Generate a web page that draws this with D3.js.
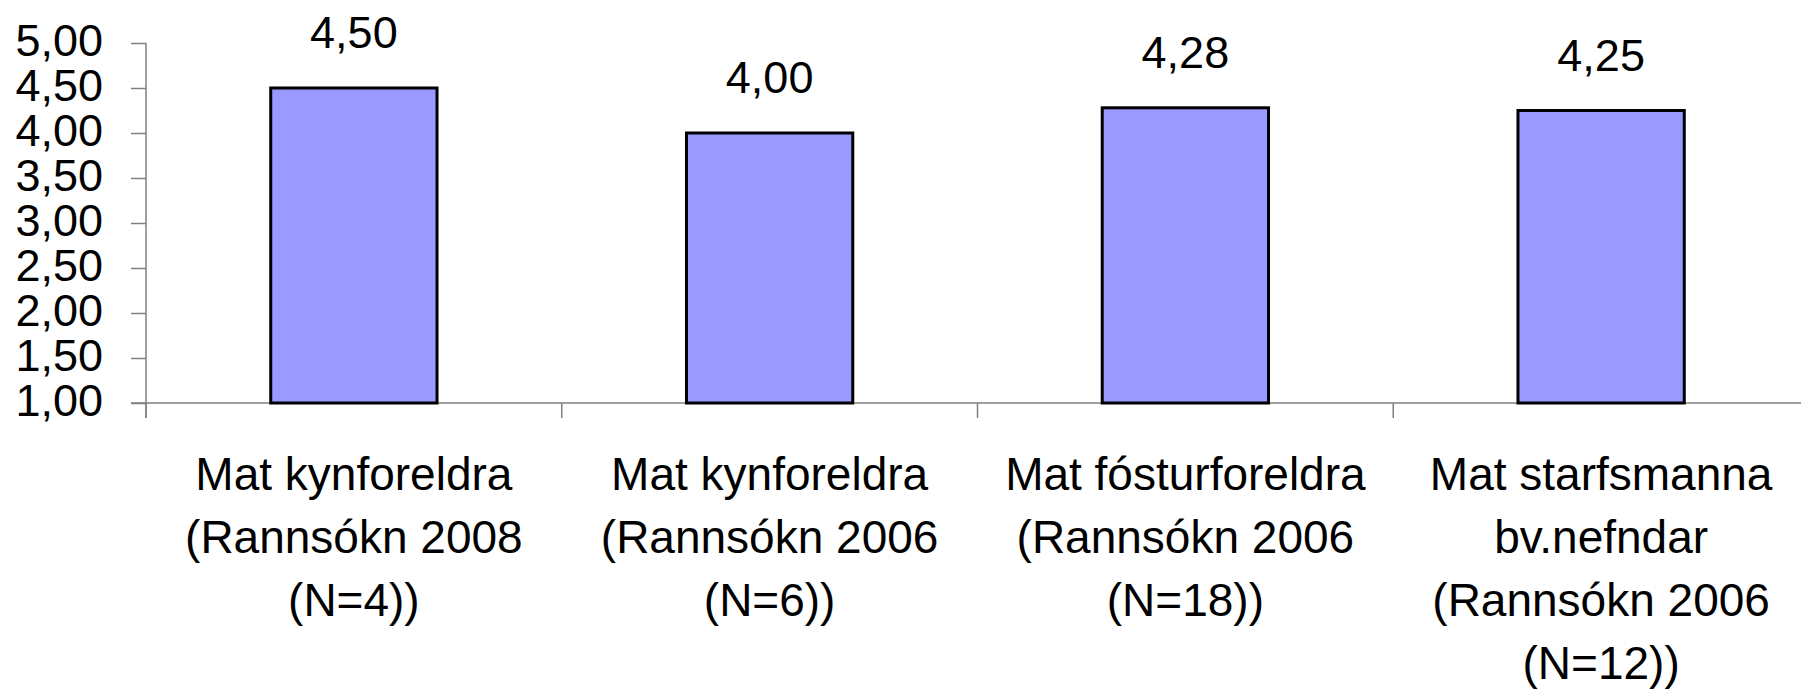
<!doctype html>
<html>
<head>
    <meta charset="utf-8">
    <style>
        body { margin: 0; background: #fff; }
        .bar { fill: #9999ff; stroke: #000; stroke-width: 3px; }
        text { font-family: Arial, "Liberation Sans", sans-serif; fill: #000; }
    </style>
    <script src="https://d3js.org/d3.v7.min.js"></script>
</head>
<body>
<svg width="1801" height="689"></svg>
<script>

    var categories = [
        ["Mat kynforeldra", "(Rannsókn 2008", "(N=4))"],
        ["Mat kynforeldra", "(Rannsókn 2006", "(N=6))"],
        ["Mat fósturforeldra", "(Rannsókn 2006", "(N=18))"],
        ["Mat starfsmanna", "bv.nefndar", "(Rannsókn 2006", "(N=12))"]
    ];
    var values = [4.50, 4.00, 4.28, 4.25];
    var yTicks = [1.00, 1.50, 2.00, 2.50, 3.00, 3.50, 4.00, 4.50, 5.00];

    var svg = d3.select("svg");
    var plotLeft = 146, plotRight = 1809, plotTop = 43, plotBottom = 403;

    var fmt = d3.formatLocale({decimal: ",", thousands: ".", grouping: [3], currency: ["", ""]}).format(".2f");

    var x = d3.scaleBand().domain(d3.range(categories.length)).range([plotLeft, plotRight]).padding(0);
    var y = d3.scaleLinear().domain([1, 5]).range([plotBottom, plotTop]);
    var barW = x.bandwidth() * 0.4;

    // y axis
    var yAxis = svg.append("g")
        .attr("transform", "translate(" + plotLeft + ",0)")
        .call(d3.axisLeft(y).tickValues(yTicks).tickFormat(fmt).tickSize(15).tickSizeOuter(0).tickPadding(28));
    yAxis.select(".domain").remove();
    yAxis.selectAll(".tick line").attr("stroke", "#808080").attr("stroke-width", 1.5);
    yAxis.selectAll(".tick text")
        .attr("font-size", "45px")
        .attr("font-family", "Arial, 'Liberation Sans', sans-serif")
        .attr("dy", "12px")
        .attr("fill", "#000");

    svg.append("line")
        .attr("x1", plotLeft).attr("x2", plotLeft)
        .attr("y1", y(5)).attr("y2", y(1) + 15)
        .attr("stroke", "#808080").attr("stroke-width", 1.5);

    // x axis
    svg.append("line")
        .attr("x1", plotLeft - 15).attr("x2", 1801)
        .attr("y1", y(1)).attr("y2", y(1))
        .attr("stroke", "#808080").attr("stroke-width", 1.5);

    svg.selectAll(".xtick")
        .data(d3.range(categories.length))
        .enter().append("line")
        .attr("class", "xtick")
        .attr("x1", function(i) { return x(i); })
        .attr("x2", function(i) { return x(i); })
        .attr("y1", y(1)).attr("y2", y(1) + 15)
        .attr("stroke", "#808080").attr("stroke-width", 1.5);

    // bars
    svg.selectAll(".bar")
        .data(values)
        .enter().append("rect")
        .attr("class", "bar")
        .attr("x", function(d, i) { return x(i) + (x.bandwidth() - barW) / 2; })
        .attr("y", function(d) { return y(d); })
        .attr("width", barW)
        .attr("height", function(d) { return y(1) - y(d); });

    // value labels
    svg.selectAll(".val")
        .data(values)
        .enter().append("text")
        .attr("class", "val")
        .attr("x", function(d, i) { return x(i) + x.bandwidth() / 2; })
        .attr("y", function(d) { return y(d) - 40; })
        .attr("text-anchor", "middle")
        .attr("font-size", "45px")
        .text(function(d) { return fmt(d); });

    // category labels
    var cat = svg.selectAll(".cat")
        .data(categories)
        .enter().append("text")
        .attr("class", "cat")
        .attr("text-anchor", "middle")
        .attr("font-size", "46px");

    cat.selectAll("tspan")
        .data(function(d, i) { return d.map(function(line) { return {line: line, i: i}; }); })
        .enter().append("tspan")
        .attr("x", function(d) { return x(d.i) + x.bandwidth() / 2; })
        .attr("y", function(d, j) { return 490 + j * 63; })
        .text(function(d) { return d.line; });

</script>
</body>
</html>
